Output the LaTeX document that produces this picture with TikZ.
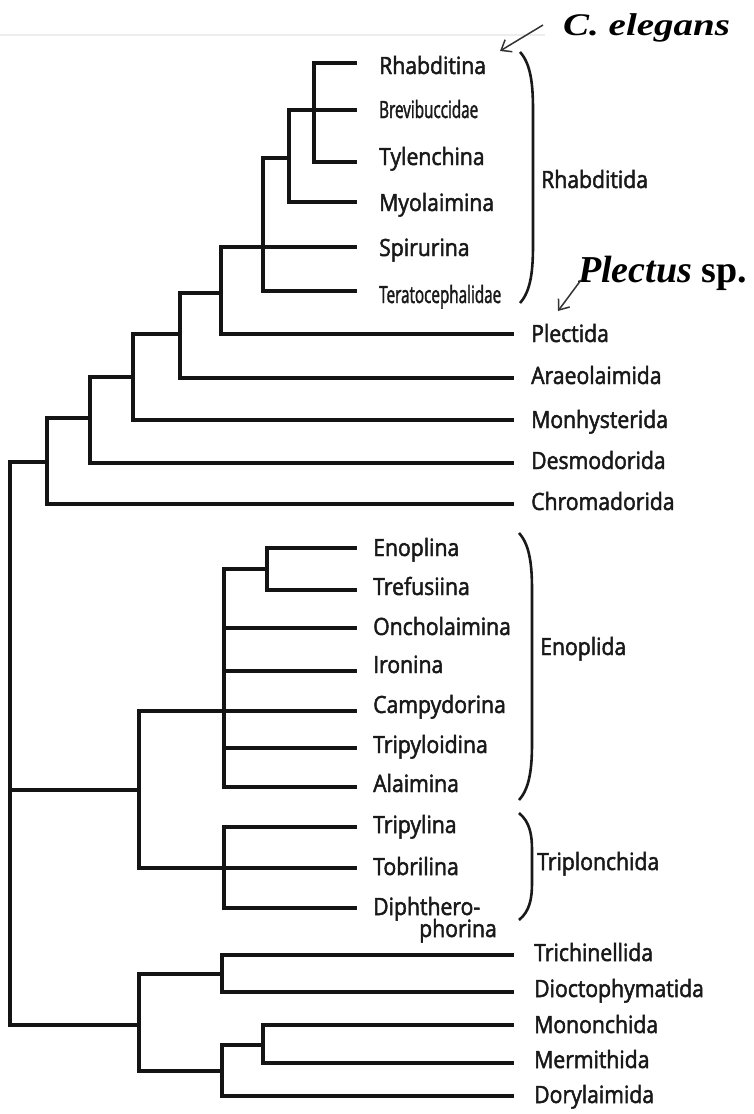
\documentclass[tikz,border=0pt]{standalone}
\usepackage{fontspec}
\usepackage{graphicx}
\setmainfont{Open Sans}[FakeStretch=0.89,FakeBold=2]
\newfontfamily\annfont{Liberation Serif}
\usetikzlibrary{arrows.meta}
\tikzset{
  br/.style={line width=3.6pt, line cap=rect, line join=miter, color=black!92},
  lab/.style={anchor=base west, inner sep=0pt, font=\fontsize{23.8}{27}\selectfont, text=black!90},
  brace/.style={line width=2.6pt, color=black!90},
  ann/.style={anchor=base west, inner sep=0pt, text=black},
  pointer/.style={line width=1.5pt, color=black!80, -{Straight Barb[length=9pt,width=14pt,line width=1.5pt]}}
}
\newcommand{\cnd}[1]{\scalebox{0.72}[1]{#1}}
\begin{document}
\begin{tikzpicture}[x=1pt,y=-1pt]
\useasboundingbox (0,0) rectangle (754,1114);
\fill[white] (0,0) rectangle (754,1114);
% faint top rule
\coordinate (ruleL) at (0,35);
\coordinate (ruleR) at (545,35);
\draw[black!7, line width=1.6pt] (ruleL) -- (ruleR);

% ---------- Chromadoria part ----------
\coordinate (A) at (314,110);
\coordinate (B) at (289,158);
\coordinate (C) at (263,247);
\coordinate (D) at (221,293);
\coordinate (E) at (180,334);
\coordinate (F) at (133,377);
\coordinate (G) at (90,418);
\coordinate (H) at (47,462);
\coordinate (R) at (10,790);
\coordinate (R2) at (10,1025);

\coordinate (l1) at (355,63);
\coordinate (l2) at (355,110);
\coordinate (l3) at (355,162);
\coordinate (l4) at (355,202);
\coordinate (l5) at (355,247);
\coordinate (l6) at (355,291);
\coordinate (l7) at (512,334);
\coordinate (l8) at (512,378);
\coordinate (l9) at (512,420);
\coordinate (l10) at (512,463);
\coordinate (l11) at (512,504);

\draw[br] (A) |- (l1);
\draw[br] (A) |- (l3);
\draw[br] (B) |- (l2);
\draw[br] (B) |- (l4);
\draw[br] (C) |- (B);
\draw[br] (C) |- (l6);
\draw[br] (D) |- (l5);
\draw[br] (D) |- (l7);
\draw[br] (E) |- (D);
\draw[br] (E) |- (l8);
\draw[br] (F) |- (E);
\draw[br] (F) |- (l9);
\draw[br] (G) |- (F);
\draw[br] (G) |- (l10);
\draw[br] (H) |- (G);
\draw[br] (H) |- (l11);
\draw[br] (R) |- (H);

% ---------- Enoplia part ----------
\coordinate (I) at (267,569);
\coordinate (J) at (224,711);
\coordinate (K) at (139,790);
\coordinate (L) at (224,868);
\coordinate (e1) at (355,548);
\coordinate (e2) at (355,590);
\coordinate (e3) at (355,628);
\coordinate (e4) at (355,671);
\coordinate (e5) at (355,711);
\coordinate (e6) at (355,748);
\coordinate (e7) at (355,787);
\coordinate (t1) at (355,827);
\coordinate (t2) at (355,868);
\coordinate (t3) at (355,908);

\draw[br] (I) |- (e1);
\draw[br] (I) |- (e2);
\draw[br] (J) |- (I);
\draw[br] (J) |- (e7);
\draw[br] (J|-e3) -- (e3);
\draw[br] (J|-e4) -- (e4);
\draw[br] (J|-e6) -- (e6);
\draw[br] (K) |- (e5);
\draw[br] (K) |- (t2);
\draw[br] (L) |- (t1);
\draw[br] (L) |- (t3);
\draw[br] (R) -- (K);

% ---------- Dorylaimia part ----------
\coordinate (M) at (222,974);
\coordinate (N) at (263,1045);
\coordinate (O) at (222,1071);
\coordinate (P) at (139,1025);
\coordinate (d1) at (512,955);
\coordinate (d2) at (512,992);
\coordinate (d3) at (512,1025);
\coordinate (d4) at (512,1063);
\coordinate (d5) at (512,1096);

\draw[br] (M) |- (d1);
\draw[br] (M) |- (d2);
\draw[br] (N) |- (d3);
\draw[br] (N) |- (d4);
\draw[br] (O) |- (N);
\draw[br] (O) |- (d5);
\draw[br] (P) |- (M);
\draw[br] (P) |- (O);
\draw[br] (R) -- (R2) -- (P);

% ---------- labels ----------
\node[lab] (tRhabditina) at (379,74) {Rhabditina};
\node[lab] (tBrevi) at (379,118) {\cnd{Brevibuccidae}};
\node[lab] (tTylen) at (379,165) {Tylenchina};
\node[lab] (tMyol) at (379,211) {Myolaimina};
\node[lab] (tSpir) at (379,256) {Spirurina};
\node[lab] (tTera) at (379,303) {\cnd{Teratocephalidae}};
\node[lab] (tRhabditida) at (541,188) {Rhabditida};

\node[lab] (tPlec) at (531,342) {Plectida};
\node[lab] (tArae) at (531,384) {Araeolaimida};
\node[lab] (tMonh) at (531,428) {Monhysterida};
\node[lab] (tDesm) at (531,469) {Desmodorida};
\node[lab] (tChro) at (531,510) {Chromadorida};

\node[lab] (tEnopl) at (373,556) {Enoplina};
\node[lab] (tTref) at (373,595) {Trefusiina};
\node[lab] (tOnch) at (373,635) {Oncholaimina};
\node[lab] (tIron) at (373,673) {Ironina};
\node[lab] (tCamp) at (373,713) {Campydorina};
\node[lab] (tTripyl) at (373,753) {Tripyloidina};
\node[lab] (tAlai) at (373,792) {Alaimina};
\node[lab] (tEnoplida) at (540,655) {Enoplida};

\node[lab] (tTripylina) at (373,833) {Tripylina};
\node[lab] (tTobr) at (373,875) {Tobrilina};
\node[lab] (tDiph) at (373,915) {Diphthero-};
\node[lab] (tPhor) at (419,937) {phorina};
\node[lab] (tTriplon) at (537,870) {Triplonchida};

\node[lab] (tTrich) at (534,961) {Trichinellida};
\node[lab] (tDioc) at (534,997) {Dioctophymatida};
\node[lab] (tMono) at (534,1033) {Mononchida};
\node[lab] (tMerm) at (534,1068) {Mermithida};
\node[lab] (tDory) at (534,1103) {Dorylaimida};

% ---------- brackets ----------
\coordinate (b1t) at (520,52);
\coordinate (b1b) at (520,303);
\draw[brace] (b1t) .. controls (531,64) and (533,85) .. (533,110) -- (533,245) .. controls (533,270) and (531,291) .. (b1b);
\coordinate (b2t) at (519,533);
\coordinate (b2b) at (519,800);
\draw[brace] (b2t) .. controls (530,545) and (532,566) .. (532,590) -- (532,743) .. controls (532,767) and (530,788) .. (b2b);
\coordinate (b3t) at (519,813);
\coordinate (b3b) at (519,920);
\draw[brace] (b3t) .. controls (530,822) and (532,835) .. (532,850) -- (532,883) .. controls (532,898) and (530,911) .. (b3b);

% ---------- annotations ----------
\node[ann] (celeg) at (563,35) {\scalebox{1.3}[1.05]{\fontsize{30}{34}\selectfont\annfont\bfseries\itshape C. elegans}};
\coordinate (ceFrom) at (543,25);
\coordinate (ceTo) at (500,51);
\draw[pointer] (ceFrom) -- (ceTo);

\node[ann] (plect) at (578,282) {\fontsize{38}{42}\selectfont\annfont\bfseries{\itshape Plectus} sp.};
\coordinate (plFrom) at (581,280);
\coordinate (plTo) at (558,311);
\draw[pointer] (plFrom) -- (plTo);
\end{tikzpicture}
\end{document}
